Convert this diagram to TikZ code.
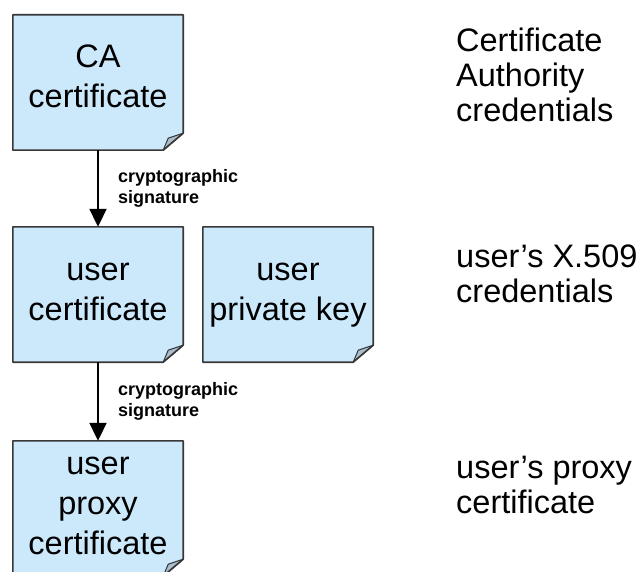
\documentclass[tikz,border=0pt]{standalone}
\usepackage{fontspec}
\setmainfont{Liberation Sans}
\usetikzlibrary{arrows.meta,backgrounds,calc}
\definecolor{notefill}{RGB}{204,233,252}
\definecolor{foldfill}{RGB}{168,190,204}
\definecolor{noteline}{RGB}{55,55,55}
\tikzset{
  note/.style={minimum width=170pt, minimum height=135pt, inner sep=0pt, align=center,
    font=\fontsize{32.5}{40}\selectfont, text depth=14pt},
  twoline/.style={text height=65pt},
  threeline/.style={text height=105pt},
  side/.style={anchor=base west, align=left, inner sep=0pt, font=\fontsize{32.5}{35}\selectfont},
  sig/.style={anchor=base west, align=left, inner sep=0pt, font=\bfseries\fontsize{18}{21}\selectfont},
  link/.style={line width=2pt, -{Triangle[width=17pt,length=18pt]}},
}
\newcommand\dogear[1]{%
  \fill[notefill] (#1.north west) -- (#1.north east) -- ([yshift=17pt]#1.south east)
     -- ([xshift=-20pt]#1.south east) -- (#1.south west) -- cycle;
  \filldraw[fill=foldfill, draw=noteline, line width=1pt, line join=round]
     ([yshift=17pt]#1.south east) -- ([xshift=-15pt,yshift=12pt]#1.south east)
     -- ([xshift=-20pt]#1.south east) -- cycle;
  \draw[noteline, line width=1.6pt, line join=round] (#1.north west) -- (#1.north east)
     -- ([yshift=17pt]#1.south east) -- ([xshift=-20pt]#1.south east) -- (#1.south west) -- cycle;
}
\begin{document}
\begin{tikzpicture}[x=1pt,y=-1pt]
\useasboundingbox (0,0) rectangle (642,572);
\node[note,twoline] (ca) at (98,82.5) {CA\\certificate};
\node[note,twoline] (uc) at (98,294.5) {user\\certificate};
\node[note,twoline] (pk) at (288,294.5) {user\\private key};
\node[note,threeline] (px) at (98,508.5) {user\\proxy\\certificate};
\begin{scope}[on background layer]
  \fill[white] (0,0) rectangle (642,572);
  \dogear{ca}\dogear{uc}\dogear{pk}\dogear{px}
\end{scope}
\draw[link] (ca.south) -- (uc.north);
\draw[link] (uc.south) -- (px.north);
\node[sig] (s1) at (118,204) {cryptographic\\signature};
\node[sig] (s2) at (118,416) {cryptographic\\signature};
\node[side] (t1) at (456,122) {Certificate\\Authority\\credentials};
\node[side] (t2) at (456,302) {user’s X.509\\credentials};
\node[side] (t3) at (456,513) {user’s proxy\\certificate};
\end{tikzpicture}
\end{document}
